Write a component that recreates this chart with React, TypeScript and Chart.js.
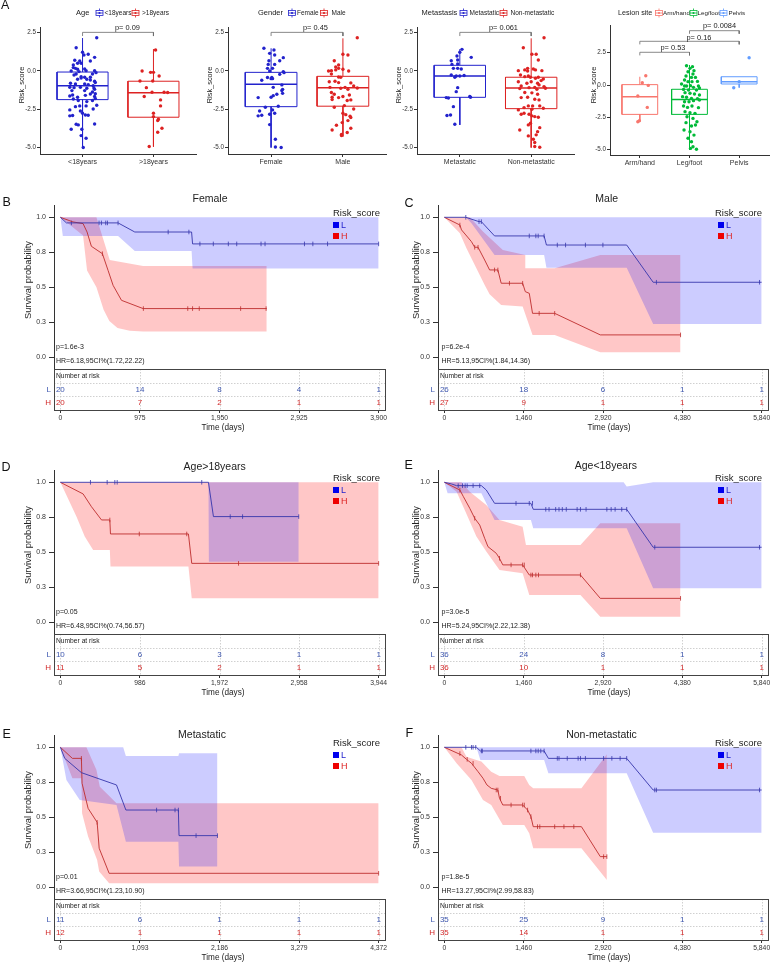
import React, { useEffect, useRef } from "react";
import { Chart, registerables } from "chart.js";

Chart.register(...registerables);

type Pt = [number, number];
const FONT = "'Liberation Sans', Arial, 'DejaVu Sans', sans-serif";
Chart.defaults.font.family = FONT;

/* ======================= Panel A : box plots ======================= */
// stats rows: [q1, median, q3, lower whisker, upper whisker]
const ageNames = ["<18years", ">18years"];
const ageStats = [
  [-1.87, -0.96, -0.07, -5.0, 2.15],
  [-3.02, -1.43, -0.67, -4.94, 1.43],
];
const ageYoungDots: Pt[] = [
  [0.2, 2.17], [-0.09, 1.52], [0, 1.22], [0.02, 1.04], [0.08, 1.09], [-0.11, 0.7], [-0.04, 0.65], [0.11, 0.65], [0.17, 0.89],
  [-0.13, 0.39], [-0.07, 0.5], [-0.02, 0.5], [-0.13, 0.22], [-0.1, 0.17], [-0.07, 0.11], [0.03, 0.13], [-0.16, 0], [-0.05, -0.04],
  [0.05, 0.02], [0.17, 0.02], [0.19, -0.11], [-0.09, -0.2], [-0.12, -0.26], [-0.02, -0.37], [0.03, -0.41], [0.11, -0.41], [0.14, -0.2],
  [-0.07, -0.54], [-0.02, -0.46], [0.06, -0.54], [0.11, -0.59], [0.17, -0.67], [0.18, -0.76], [-0.17, -0.8], [-0.1, -0.85], [0.03, -0.85],
  [0.08, -0.89], [0.15, -0.96], [-0.18, -1.07], [-0.12, -1.09], [-0.03, -1.07], [0.06, -1.13], [0.16, -1.11], [0.17, -1.2], [-0.15, -1.28],
  [0.03, -1.28], [0.14, -1.37], [0.18, -1.48], [-0.18, -1.63], [-0.14, -1.57], [-0.07, -1.72], [0.04, -1.59], [0.17, -1.67], [0.11, -1.5],
  [-0.13, -1.83], [-0.06, -1.93], [0.06, -2.0], [0.18, -1.8], [0.14, -1.93], [-0.1, -2.33], [-0.04, -2.28], [0.05, -2.28], [0.2, -2.24],
  [-0.18, -2.54], [-0.03, -2.61], [0.15, -2.48], [-0.18, -2.93], [-0.14, -2.91], [0, -2.76], [0.04, -2.87], [0.08, -2.89], [-0.06, -3.52],
  [-0.09, -3.48], [0.17, -3.46], [-0.16, -3.8], [-0.01, -3.8], [-0.02, -4.22], [0.05, -4.39], [0.01, -5.0],
];
const ageOldDots: Pt[] = [
  [0.03, 1.37], [-0.16, 0], [-0.04, -0.09], [0, -0.09], [0.08, -0.33], [-0.19, -0.65], [-0.01, -0.65], [-0.1, -1.09], [-0.02, -1.39],
  [0.15, -1.39], [0.2, -1.41], [-0.13, -1.67], [0.1, -1.89], [0.1, -2.28], [0, -2.76], [0, -2.98], [0.07, -3.15], [0.06, -3.24],
  [0.12, -3.74], [0.06, -4.0], [-0.06, -4.93],
];

const genderNames = ["Female", "Male"];
const genderStats = [
  [-2.33, -0.87, -0.09, -5.0, 1.48],
  [-2.3, -1.09, -0.35, -4.28, 2.13],
];
const femaleDots: Pt[] = [
  [-0.1, 1.48], [0.04, 1.37], [-0.02, 1.15], [0.05, 1.04], [-0.03, 0.67], [0.12, 0.67], [0.17, 0.87], [-0.04, 0.43], [0.05, 0.43],
  [-0.05, 0.17], [0.02, 0.17], [-0.02, 0], [0.17, -0.04], [0.18, -0.11], [0.12, -0.22], [-0.05, -0.43], [0.01, -0.43], [-0.13, -0.61],
  [0, -0.5], [0.02, -0.5], [0.15, -0.91], [0.03, -1.07], [0.16, -1.2], [0.15, -1.28], [0.16, -1.46], [-0.18, -1.74], [0, -1.72],
  [0.03, -1.61], [0.08, -1.52], [0.1, -2.3], [-0.08, -2.37], [-0.16, -2.61], [0.02, -2.54], [-0.18, -2.93], [-0.13, -2.89], [-0.02, -2.83],
  [0.05, -2.76], [-0.02, -3.5], [0.06, -4.46], [0.06, -4.96], [0.14, -5.0],
];
const maleDots: Pt[] = [
  [0.2, 2.17], [0, 1.09], [0.07, 1.04], [-0.12, 0.67], [-0.06, 0.39], [-0.1, 0.26], [-0.16, 0.02], [-0.1, 0.07], [-0.06, 0.17], [0, 0.11],
  [0.08, 0], [-0.2, 0], [-0.16, -0.2], [-0.06, -0.39], [-0.03, -0.41], [-0.19, -0.7], [-0.11, -0.67], [-0.06, -0.76], [0.11, -0.78],
  [0.15, -0.98], [-0.18, -1.07], [0.03, -1.07], [-0.03, -1.13], [0.07, -1.2], [0.2, -1.11], [-0.16, -1.41], [-0.12, -1.52], [-0.15, -1.72],
  [-0.06, -1.74], [0, -1.67], [0.09, -1.57], [-0.15, -1.87], [0.06, -1.93], [0.11, -1.89], [0.02, -2.26], [0.15, -2.48], [-0.12, -2.37],
  [0, -2.76], [0.04, -2.85], [0.1, -2.96], [0.11, -3.04], [0.07, -3.24], [-0.01, -3.37], [-0.09, -3.54], [-0.15, -3.85], [0.11, -3.74],
  [0.06, -4.02], [-0.02, -4.22], [-0.02, -4.15],
];

const metNames = ["Metastatic", "Non-metastatic"];
const metStats = [
  [-1.72, -0.33, 0.37, -3.52, 1.43],
  [-2.46, -1.11, -0.41, -5.0, 2.13],
];
const metDots: Pt[] = [
  [0.03, 1.41], [0, 1.22], [-0.04, 0.98], [-0.03, 0.72], [-0.12, 0.67], [-0.03, 0.46], [-0.11, 0.43], [-0.09, 0.17], [0.16, 0.89],
  [-0.03, 0.17], [0.02, 0.13], [-0.12, -0.26], [-0.07, -0.41], [-0.05, -0.33], [0.06, -0.3], [0, -0.33], [-0.03, -1.09], [-0.05, -1.35],
  [-0.19, -1.74], [-0.16, -1.76], [0.14, -1.67], [0.15, -1.72], [-0.09, -2.33], [-0.13, -2.87], [-0.18, -2.91], [-0.07, -3.48],
];
const nonMetDots: Pt[] = [
  [0.18, 2.17], [-0.11, 1.52], [0.01, 1.09], [0.07, 1.09], [0.1, 0.72], [-0.18, 0.02], [-0.09, 0.07], [-0.05, 0.17], [-0.05, 0], [0.03, 0.13],
  [0.06, 0.07], [0.15, 0.02], [-0.15, -0.26], [-0.09, -0.37], [-0.04, -0.33], [-0.01, -0.41], [0.06, -0.48], [0.1, -0.41], [0.17, -0.52],
  [0.14, -0.63], [-0.18, -0.7], [-0.06, -0.8], [0, -0.7], [0.09, -0.8], [0.11, -0.91], [0.18, -1.02], [-0.14, -0.98], [0.05, -1.07],
  [-0.16, -1.15], [-0.03, -1.09], [0.08, -1.2], [0.2, -1.13], [-0.09, -1.41], [0.01, -1.43], [0.09, -1.52], [-0.14, -1.74], [-0.05, -1.72],
  [0.05, -1.85], [0.11, -1.89], [0.02, -2.28], [0.12, -2.28], [-0.1, -2.39], [-0.04, -2.28], [-0.18, -2.54], [0.01, -2.5], [0.17, -2.43],
  [-0.14, -2.83], [-0.1, -2.76], [-0.03, -2.83], [0.01, -2.93], [0.05, -2.98], [0.1, -3.02], [-0.01, -3.41], [-0.04, -3.52], [0.12, -3.7],
  [-0.16, -3.85], [0.09, -3.96], [0.07, -4.17], [-0.04, -4.24], [0.03, -4.46], [0.05, -4.67], [0.05, -4.93], [0.12, -4.98],
];

const siteNames = ["Arm/hand", "Leg/foot", "Pelvis"];
const siteStats = [
  [-2.27, -0.9, 0.03, -2.84, 0.64],
  [-2.27, -1.11, -0.33, -5.0, 1.55],
  [0.08, 0.26, 0.64, -0.2, 0.64],
];
const armDots: Pt[] = [[0.12, 0.72], [0.05, 0.18], [0.17, -0.03], [-0.04, -0.85], [0.15, -1.73], [-0.01, -2.76], [-0.04, -2.84]];
const legDots: Pt[] = [
  [-0.06, 1.49], [0.06, 1.42], [0.01, 1.29], [0.09, 1.11], [-0.03, 1.03], [0.07, 0.85], [-0.07, 0.7], [0.04, 0.59], [0.12, 0.59],
  [-0.1, 0.39], [-0.03, 0.26], [0.05, 0.26], [0.16, 0.28], [-0.16, 0.08], [-0.06, -0.08], [0.02, -0.05], [0.08, -0.18], [0.18, -0.08],
  [-0.12, -0.34], [-0.02, -0.39], [0.14, -0.39], [0.2, -0.23], [-0.09, -0.59], [0.01, -0.64], [0.1, -0.7], [0.2, -0.77], [-0.14, -0.9],
  [-0.06, -0.95], [0.04, -1.03], [0.16, -1.06], [-0.1, -1.29], [-0.01, -1.29], [0.08, -1.21], [0.2, -1.16], [-0.12, -1.62], [-0.04, -1.73],
  [0.05, -1.62], [0.18, -1.75], [-0.09, -2.06], [0.01, -2.14], [0.11, -2.19], [-0.05, -2.45], [0.07, -2.58], [0.15, -2.84], [-0.07, -2.91],
  [0.04, -3.17], [0.12, -3.09], [-0.11, -3.48], [0.01, -3.61], [0.09, -3.87], [-0.03, -4.12], [0.04, -4.38], [0.07, -4.77], [0.14, -4.97],
  [0.02, -4.9], [-0.1, -0.08],
];
const pelvisDots: Pt[] = [[-0.11, -0.21], [0, 0.26], [0.2, 2.11]];

const boxYTicks = [-5, -2.5, 0, 2.5];
// brackets: [from group, to group, height]
const twoBracket = [[1, 2, 2.52]];
const siteBrackets = [[1, 2, 2.53], [1, 3, 3.38], [2, 3, 4.2]];

/* ======================= KM panels ======================= */
const femaleTimes = [0, 975, 1950, 2925, 3900];
const femaleRiskL = [20, 14, 8, 4, 1];
const femaleRiskH = [20, 7, 2, 1, 1];
const femaleLCurve: Pt[] = [[0, 1], [74, 0.96], [707, 0.96], [912, 0.895], [1608, 0.895], [1620, 0.81], [3900, 0.81]];
const femaleLCensor: Pt[] = [[135, 0.96], [474, 0.96], [503, 0.96], [556, 0.96], [577, 0.96], [707, 0.96], [1321, 0.895], [1575, 0.895], [1710, 0.81], [1874, 0.81], [2058, 0.81], [2161, 0.81], [2459, 0.81], [2508, 0.81], [2991, 0.81], [3094, 0.81], [3274, 0.81], [3900, 0.81]];
const femaleLUpper: Pt[] = [[0, 1], [3900, 1]];
const femaleLLower: Pt[] = [[0, 1], [30, 0.866], [707, 0.866], [912, 0.76], [1608, 0.76], [1620, 0.635], [3900, 0.635]];
const femaleHCurve: Pt[] = [[0, 1], [155, 0.967], [278, 0.955], [327, 0.895], [380, 0.793], [515, 0.74], [585, 0.62], [646, 0.514], [749, 0.407], [1014, 0.348], [2529, 0.348]];
const femaleHCensor: Pt[] = [[515, 0.74], [1017, 0.348], [1561, 0.348], [1620, 0.348], [1702, 0.348], [2209, 0.348], [2521, 0.348]];
const femaleHUpper: Pt[] = [[0, 1], [442, 1], [605, 0.695], [1014, 0.652], [2529, 0.652]];
const femaleHLower: Pt[] = [[0, 1], [278, 0.87], [327, 0.62], [442, 0.5], [530, 0.34], [600, 0.26], [700, 0.21], [850, 0.19], [1014, 0.185], [2529, 0.185]];

const maleTimes = [0, 1460, 2920, 4380, 5840];
const maleRiskL = [26, 18, 6, 1, 1];
const maleRiskH = [27, 9, 1, 1, 1];
const maleLCurve: Pt[] = [[0, 1], [395, 1], [638, 0.969], [681, 0.969], [924, 0.867], [1836, 0.867], [1879, 0.802], [3356, 0.802], [3843, 0.536], [5840, 0.536]];
const maleLCensor: Pt[] = [[395, 1], [638, 0.969], [681, 0.969], [1563, 0.867], [1684, 0.867], [1727, 0.867], [1836, 0.867], [2079, 0.802], [2231, 0.802], [2596, 0.802], [2918, 0.802], [3903, 0.536], [5800, 0.536]];
const maleLUpper: Pt[] = [[0, 1], [5840, 1]];
const maleLLower: Pt[] = [[0, 1], [395, 1], [499, 0.957], [924, 0.731], [1836, 0.731], [1879, 0.64], [3356, 0.64], [3843, 0.238], [5840, 0.238]];
const maleHCurve: Pt[] = [[0, 1], [286, 0.945], [316, 0.91], [395, 0.874], [499, 0.826], [559, 0.786], [620, 0.786], [742, 0.695], [833, 0.624], [985, 0.624], [1046, 0.529], [1441, 0.529], [1490, 0.469], [1563, 0.457], [1623, 0.314], [2031, 0.314], [2870, 0.16], [4347, 0.16]];
const maleHCensor: Pt[] = [[286, 0.945], [559, 0.786], [620, 0.786], [924, 0.624], [985, 0.624], [1198, 0.529], [1441, 0.529], [1745, 0.314], [2031, 0.314], [4347, 0.16]];
const maleHUpper: Pt[] = [[0, 1], [468, 1], [711, 0.898], [1076, 0.767], [1490, 0.731], [1502, 0.636], [2031, 0.636], [2870, 0.731], [4347, 0.731]];
const maleHLower: Pt[] = [[0, 1], [286, 0.886], [407, 0.779], [742, 0.517], [833, 0.45], [1046, 0.374], [1441, 0.362], [1623, 0.16], [2031, 0.16], [2870, 0.036], [4347, 0.036]];

const oldTimes = [0, 986, 1972, 2958, 3944];
const oldRiskL = [10, 6, 3, 1, 1];
const oldRiskH = [11, 5, 2, 1, 1];
const oldLCurve: Pt[] = [[0, 1], [1835, 1], [1897, 0.755], [2954, 0.755]];
const oldLCensor: Pt[] = [[373, 1], [580, 1], [675, 1], [704, 1], [1752, 1], [2105, 0.755], [2258, 0.755], [2954, 0.755]];
const oldLUpper: Pt[] = [[0, 1], [2954, 1]];
const oldLLower: Pt[] = [[0, 1], [1835, 1], [1840, 0.433], [2954, 0.433]];
const oldHCurve: Pt[] = [[0, 1], [282, 0.917], [385, 0.826], [510, 0.731], [613, 0.731], [621, 0.631], [1587, 0.631], [1628, 0.421], [3944, 0.421]];
const oldHCensor: Pt[] = [[613, 0.731], [978, 0.631], [1566, 0.631], [2208, 0.421], [3944, 0.421]];
const oldHUpper: Pt[] = [[0, 1], [3944, 1]];
const oldHLower: Pt[] = [[0, 1], [199, 0.755], [302, 0.612], [406, 0.517], [613, 0.517], [621, 0.398], [1587, 0.398], [1628, 0.171], [3944, 0.171]];

const youngTimes = [0, 1460, 2920, 4380, 5840];
const youngRiskL = [36, 24, 8, 1, 1];
const youngRiskH = [36, 10, 1, 1, 1];
const youngLCurve: Pt[] = [[0, 1], [134, 0.988], [225, 0.976], [681, 0.976], [772, 0.945], [924, 0.85], [1593, 0.85], [1636, 0.807], [3356, 0.807], [3843, 0.536], [5840, 0.536]];
const youngLCensor: Pt[] = [[255, 0.976], [334, 0.976], [383, 0.976], [420, 0.976], [529, 0.976], [651, 0.976], [1319, 0.85], [1563, 0.85], [1623, 0.85], [1867, 0.807], [1927, 0.807], [2049, 0.807], [2110, 0.807], [2171, 0.807], [2244, 0.807], [2444, 0.807], [2505, 0.807], [2608, 0.807], [2991, 0.807], [3070, 0.807], [3143, 0.807], [3265, 0.807], [3356, 0.807], [3873, 0.536], [5800, 0.536]];
const youngLUpper: Pt[] = [[0, 1], [3300, 1], [3356, 0.97], [3843, 1], [5840, 1]];
const youngLLower: Pt[] = [[0, 1], [60, 0.921], [681, 0.921], [924, 0.731], [1593, 0.731], [1636, 0.671], [3356, 0.671], [3843, 0.243], [5840, 0.243]];
const youngHCurve: Pt[] = [[0, 1], [286, 0.945], [347, 0.9], [468, 0.814], [559, 0.743], [651, 0.695], [742, 0.6], [803, 0.54], [955, 0.493], [1015, 0.457], [1076, 0.41], [1441, 0.41], [1563, 0.338], [2505, 0.338], [2870, 0.171], [4347, 0.171]];
const youngHCensor: Pt[] = [[286, 0.945], [559, 0.743], [1015, 0.457], [1228, 0.41], [1441, 0.41], [1471, 0.41], [1593, 0.338], [1623, 0.338], [1684, 0.338], [1733, 0.338], [2505, 0.338], [4347, 0.171]];
const youngHUpper: Pt[] = [[0, 1], [316, 1], [468, 0.933], [772, 0.838], [1015, 0.731], [1441, 0.683], [1502, 0.552], [2505, 0.552], [2870, 0.707], [4347, 0.707]];
const youngHLower: Pt[] = [[0, 1], [225, 0.933], [377, 0.8], [590, 0.612], [772, 0.505], [1015, 0.374], [1441, 0.35], [1563, 0.195], [2505, 0.195], [2870, 0.04], [4347, 0.04]];

const metTimes = [0, 1093, 2186, 3279, 4372];
const metRiskL = [11, 6, 1, 1, 1];
const metRiskH = [12, 1, 1, 1, 1];
const metLCurve: Pt[] = [[0, 1], [60, 0.921], [289, 0.819], [771, 0.731], [900, 0.552], [1621, 0.552], [1630, 0.369], [2158, 0.369]];
const metLCensor: Pt[] = [[1322, 0.552], [1575, 0.552], [1621, 0.552], [1864, 0.369], [2158, 0.369]];
const metLUpper: Pt[] = [[0, 1], [863, 1], [900, 0.938], [1621, 0.938], [1630, 0.957], [2158, 0.957]];
const metLLower: Pt[] = [[0, 1], [83, 0.767], [266, 0.624], [771, 0.588], [900, 0.326], [1621, 0.326], [1630, 0.148], [2158, 0.148]];
const metHCurve: Pt[] = [[0, 1], [165, 0.921], [289, 0.921], [298, 0.743], [381, 0.564], [505, 0.464], [519, 0.374], [533, 0.279], [670, 0.1], [4372, 0.1]];
const metHCensor: Pt[] = [[289, 0.921], [505, 0.464], [4372, 0.1]];
const metHUpper: Pt[] = [[0, 1], [358, 1], [496, 0.838], [542, 0.719], [679, 0.648], [771, 0.6], [4372, 0.6]];
const metHLower: Pt[] = [[0, 1], [165, 0.779], [289, 0.779], [298, 0.529], [381, 0.362], [505, 0.195], [533, 0.112], [670, 0.029], [4372, 0.029]];

const nonTimes = [0, 1460, 2920, 4380, 5840];
const nonRiskL = [35, 25, 9, 1, 1];
const nonRiskH = [35, 14, 1, 1, 1];
const nonLCurve: Pt[] = [[0, 1], [590, 1], [663, 0.974], [1836, 0.974], [1915, 0.921], [3356, 0.921], [3843, 0.695], [5840, 0.695]];
const nonLCensor: Pt[] = [[395, 1], [499, 1], [529, 1], [578, 1], [681, 0.974], [699, 0.974], [1593, 0.974], [1684, 0.974], [1727, 0.974], [1775, 0.974], [1836, 0.974], [2079, 0.921], [2110, 0.921], [2262, 0.921], [2462, 0.921], [2505, 0.921], [2596, 0.921], [2931, 0.921], [3083, 0.921], [3235, 0.921], [3356, 0.921], [3873, 0.695], [3903, 0.695], [5800, 0.695]];
const nonLUpper: Pt[] = [[0, 1], [5840, 1]];
const nonLLower: Pt[] = [[0, 1], [590, 1], [663, 0.91], [1836, 0.91], [1915, 0.814], [3356, 0.814], [3843, 0.39], [5840, 0.39]];
const nonHCurve: Pt[] = [[0, 1], [316, 0.945], [407, 0.914], [499, 0.886], [620, 0.826], [711, 0.779], [784, 0.731], [863, 0.707], [985, 0.695], [1015, 0.636], [1076, 0.588], [1441, 0.588], [1532, 0.552], [1593, 0.505], [1636, 0.433], [2523, 0.433], [2870, 0.219], [2991, 0.219]];
const nonHCensor: Pt[] = [[286, 0.955], [420, 0.914], [529, 0.886], [955, 0.695], [985, 0.695], [1034, 0.636], [1228, 0.588], [1441, 0.588], [1471, 0.588], [1532, 0.552], [1593, 0.505], [1715, 0.433], [1757, 0.433], [2031, 0.433], [2201, 0.433], [2383, 0.433], [2931, 0.219], [2991, 0.219]];
const nonHUpper: Pt[] = [[0, 1], [316, 1], [407, 0.933], [590, 0.91], [681, 0.898], [863, 0.826], [1015, 0.795], [1471, 0.795], [1562, 0.731], [1636, 0.707], [2523, 0.707], [2991, 0.95]];
const nonHLower: Pt[] = [[0, 1], [225, 0.886], [499, 0.767], [711, 0.624], [863, 0.588], [1076, 0.445], [1471, 0.445], [1562, 0.386], [1636, 0.279], [2523, 0.279], [2991, 0.052]];

const survTicks = [0, 0.25, 0.5, 0.75, 1];

/* ======================= colours ======================= */
const LLINE = "#3636ac";
const HLINE = "#bd2c2c";
const LFILL = "rgba(0,0,255,0.2)";
const HFILL = "rgba(255,0,0,0.22)";
const LTXT = "#3f58b0";
const HTXT = "#d22a2a";
const BLUE = "#2222cc";
const RED = "#dd2222";
const TXT = "#222";

/* ======================= helpers ======================= */
function overlayPlugin(items: any[], ox: number, oy: number) {
  return {
    id: "overlay",
    afterDraw(chart: any) {
      const ctx = chart.ctx as CanvasRenderingContext2D;
      for (const it of items) {
        ctx.save();
        if (it.k === "t") {
          ctx.font = `${it.size}px ${FONT}`;
          ctx.fillStyle = it.color || TXT;
          ctx.textAlign = it.align || "left";
          ctx.textBaseline = "middle";
          ctx.translate(it.x - ox, it.y - oy);
          if (it.rot) ctx.rotate((it.rot * Math.PI) / 180);
          ctx.fillText(it.t, 0, 0);
        } else if (it.k === "r") {
          ctx.fillStyle = it.fill;
          ctx.fillRect(it.x - ox, it.y - oy, it.w, it.h);
        } else if (it.k === "g") {
          // boxplot legend key
          const x = it.x - ox, y = it.y - oy;
          ctx.strokeStyle = it.color;
          ctx.fillStyle = it.color;
          ctx.lineWidth = 0.8;
          ctx.beginPath();
          ctx.moveTo(x + 3.5, y - 4.5);
          ctx.lineTo(x + 3.5, y + 4.5);
          ctx.stroke();
          ctx.fillStyle = "#fff";
          ctx.fillRect(x, y - 2.5, 7, 5);
          ctx.strokeRect(x, y - 2.5, 7, 5);
          ctx.beginPath();
          ctx.moveTo(x, y);
          ctx.lineTo(x + 7, y);
          ctx.stroke();
          ctx.fillStyle = it.color;
          ctx.beginPath();
          ctx.arc(x + 3.5, y, 1.1, 0, Math.PI * 2);
          ctx.fill();
        }
        ctx.restore();
      }
    },
  };
}

function baseOptions(padding: any) {
  return {
    responsive: false,
    maintainAspectRatio: false,
    animation: false,
    devicePixelRatio: 1,
    events: [],
    layout: { padding },
    plugins: {
      legend: { display: false },
      tooltip: { enabled: false },
      title: { display: false },
      filler: { drawTime: "beforeDatasetsDraw" },
    },
  };
}

function ChartCanvas({ x, y, w, h, make }: { x: number; y: number; w: number; h: number; make: () => any }) {
  const ref = useRef<HTMLCanvasElement | null>(null);
  useEffect(() => {
    const c = new Chart(ref.current as HTMLCanvasElement, make());
    return () => c.destroy();
  }, []);
  return (
    <canvas ref={ref} width={w} height={h} style={{ position: "absolute", left: x, top: y, width: w, height: h }} />
  );
}

/* ---------- box plot chart ---------- */
interface BoxSpec {
  ox: number; oy: number; w: number; h: number; axisW: number; padTop: number; xAxisH: number;
  yMin: number; yMax: number; names: string[]; stats: number[][]; dots: Pt[][];
  colors: string[]; brackets: number[][]; overlay: any[];
}

function boxConfig(s: BoxSpec) {
  const ds: any[] = [];
  const hw = 0.36;
  s.stats.forEach((st, i) => {
    const c = i + 1;
    const [q1, med, q3, lo, hi] = st;
    const b = { borderColor: s.colors[i], borderWidth: 1, pointRadius: 0, fill: false, tension: 0, order: 2 };
    ds.push({ ...b, data: [{ x: c - hw, y: q1 }, { x: c + hw, y: q1 }, { x: c + hw, y: q3 }, { x: c - hw, y: q3 }, { x: c - hw, y: q1 }] });
    ds.push({ ...b, borderWidth: 1.5, data: [{ x: c - hw, y: med }, { x: c + hw, y: med }] });
    ds.push({ ...b, data: [{ x: c, y: q3 }, { x: c, y: hi }] });
    ds.push({ ...b, data: [{ x: c, y: q1 }, { x: c, y: lo }] });
    ds.push({
      data: s.dots[i].map(([dx, v]) => ({ x: c + dx, y: v })),
      showLine: false, pointRadius: 1.7, pointBackgroundColor: s.colors[i], pointBorderWidth: 0,
      borderColor: s.colors[i], order: 0,
    });
  });
  s.brackets.forEach((br) => {
    ds.push({
      data: [{ x: br[0], y: br[2] - 0.24 }, { x: br[0], y: br[2] }, { x: br[1], y: br[2] }, { x: br[1], y: br[2] - 0.24 }],
      borderColor: "#6b6b6b", borderWidth: 0.8, pointRadius: 0, fill: false, order: 3,
    });
  });
  const n = s.names.length;
  return {
    type: "line",
    data: { datasets: ds },
    options: {
      ...baseOptions({ top: s.padTop, right: 0, bottom: 0, left: 0 }),
      scales: {
        x: {
          type: "linear", min: 0.4, max: n + 0.6,
          afterBuildTicks: (sc: any) => { sc.ticks = s.names.map((_, i) => ({ value: i + 1 })); },
          afterFit: (sc: any) => { sc.height = s.xAxisH; },
          ticks: { callback: (_v: any, i: number) => s.names[i], font: { size: 7 }, color: "#333", padding: 1, maxRotation: 0, autoSkip: false },
          grid: { drawOnChartArea: false, drawTicks: true, tickLength: 3, tickColor: "#333" },
          border: { display: true, color: "#333", width: 1 },
        },
        y: {
          type: "linear", min: s.yMin, max: s.yMax,
          afterBuildTicks: (sc: any) => { sc.ticks = boxYTicks.map((v) => ({ value: v })); },
          afterFit: (sc: any) => { sc.width = s.axisW; },
          ticks: { callback: (v: any) => Number(v).toFixed(1), font: { size: 6.3 }, color: "#333", padding: 1, autoSkip: false },
          grid: { drawOnChartArea: false, drawTicks: true, tickLength: 3, tickColor: "#333" },
          border: { display: true, color: "#333", width: 1 },
        },
      },
    },
    plugins: [overlayPlugin(s.overlay, s.ox, s.oy)],
  };
}

/* ---------- KM chart ---------- */
interface KMGroup { curve: Pt[]; censor: Pt[]; upper: Pt[]; lower: Pt[] }
interface KMPanel {
  col: number; row: number; letter: string; letterPos: Pt; title: string; titlePos: Pt;
  max: number; times: number[]; riskL: number[]; riskH: number[]; L: KMGroup; H: KMGroup;
  p: string; hr: string;
}

const pts = (a: Pt[]) => a.map(([x, y]) => ({ x, y }));

function kmDatasets(L: KMGroup, H: KMGroup) {
  const line = (a: Pt[], c: string) => ({ data: pts(a), borderColor: c, borderWidth: 0.9, pointRadius: 0, fill: false, tension: 0 });
  const cens = (a: Pt[], c: string) => ({
    data: pts(a), showLine: false, pointStyle: "line", pointRotation: 90, pointRadius: 2.3,
    pointBorderWidth: 0.8, pointBorderColor: c, pointBackgroundColor: c, borderColor: c,
  });
  const up = (a: Pt[]) => ({ data: pts(a), borderColor: "rgba(0,0,0,0)", borderWidth: 0, pointRadius: 0, fill: false, tension: 0 });
  const lo = (a: Pt[], f: string) => ({ data: pts(a), borderColor: "rgba(0,0,0,0)", borderWidth: 0, pointRadius: 0, fill: "-1", backgroundColor: f, tension: 0 });
  return [
    line(L.curve, LLINE), line(H.curve, HLINE), cens(L.censor, LLINE), cens(H.censor, HLINE),
    up(L.upper), lo(L.lower, LFILL), up(H.upper), lo(H.lower, HFILL),
  ];
}

function colGeom(col: number) {
  return col === 0
    ? { ox: 0, w: 390, axisW: 54, ylab: 28, legX: 333, sqX: 333, pX: 56, timeX: 223 }
    : { ox: 390, w: 383, axisW: 48, ylab: 416, legX: 715, sqX: 718, pX: 441.5, timeX: 609 };
}

function survConfig(p: KMPanel) {
  const g = colGeom(p.col);
  const dy = 265 * p.row;
  const oy = 190 + dy;
  const items = [
    { k: "t", t: p.letter, x: p.letterPos[0], y: p.letterPos[1], size: 12.5, color: "#111" },
    { k: "t", t: p.title, x: p.titlePos[0], y: p.titlePos[1], size: 10.5, align: "center" },
    { k: "t", t: "Survival probability", x: g.ylab, y: 280 + dy, size: 9.3, align: "center", rot: -90 },
    { k: "t", t: "Risk_score", x: g.legX, y: 213.5 + dy, size: 9.5 },
    { k: "r", x: g.sqX, y: 222 + dy, w: 6, h: 6, fill: "#0000ee" },
    { k: "r", x: g.sqX, y: 233 + dy, w: 6, h: 6, fill: "#ee0000" },
    { k: "t", t: "L", x: g.sqX + 8, y: 225.3 + dy, size: 9, color: BLUE },
    { k: "t", t: "H", x: g.sqX + 8, y: 236.3 + dy, size: 9, color: RED },
    { k: "t", t: p.p, x: g.pX, y: 346.7 + dy, size: 7 },
    { k: "t", t: p.hr, x: g.pX, y: 360.7 + dy, size: 7 },
  ];
  return {
    type: "line",
    data: { datasets: kmDatasets(p.L, p.H) },
    options: {
      ...baseOptions({ top: 15, right: 5, bottom: 10, left: 0 }),
      scales: {
        x: { type: "linear", display: false, min: -0.02 * p.max, max: 1.02 * p.max },
        y: {
          type: "linear", min: -0.0836, max: 1.0879,
          afterBuildTicks: (sc: any) => { sc.ticks = survTicks.map((v) => ({ value: v })); },
          afterFit: (sc: any) => { sc.width = g.axisW; },
          ticks: { callback: (v: any) => Number(v).toFixed(1), font: { size: 7 }, color: "#333", padding: 3, autoSkip: false },
          grid: { drawOnChartArea: false, drawTicks: true, tickLength: 5, tickColor: "#333" },
          border: { display: true, color: "#333", width: 1 },
        },
      },
    },
    plugins: [overlayPlugin(items, g.ox, oy)],
  };
}

function tableConfig(p: KMPanel) {
  const g = colGeom(p.col);
  const dy = 265 * p.row;
  const oy = 359 + dy;
  const counts = [p.riskL, p.riskH];
  const colors = [LTXT, HTXT];
  const plugin = {
    id: "riskTable",
    afterDraw(chart: any) {
      const ctx = chart.ctx as CanvasRenderingContext2D;
      const a = chart.chartArea;
      const xs = chart.scales.x, ys = chart.scales.y;
      ctx.save();
      ctx.strokeStyle = "#c4c4c4";
      ctx.lineWidth = 0.8;
      ctx.setLineDash([1.5, 1.5]);
      p.times.forEach((t) => {
        const px = Math.round(xs.getPixelForValue(t)) + 0.5;
        ctx.beginPath(); ctx.moveTo(px, a.top); ctx.lineTo(px, a.bottom); ctx.stroke();
      });
      [1, 2].forEach((v) => {
        const py = Math.round(ys.getPixelForValue(v)) + 0.5;
        ctx.beginPath(); ctx.moveTo(a.left, py); ctx.lineTo(a.right, py); ctx.stroke();
      });
      ctx.setLineDash([]);
      ctx.strokeStyle = "#444";
      ctx.lineWidth = 1;
      ctx.strokeRect(Math.round(a.left) + 0.5, Math.round(a.top) + 0.5, Math.round(a.right - a.left), Math.round(a.bottom - a.top));
      ctx.textBaseline = "middle";
      ctx.font = `6.7px ${FONT}`;
      ctx.fillStyle = TXT;
      ctx.textAlign = "left";
      ctx.fillText("Number at risk", a.left + 2, ys.getPixelForValue(2.5));
      ctx.font = `8px ${FONT}`;
      ctx.textAlign = "center";
      counts.forEach((arr, i) => {
        const meta = chart.getDatasetMeta(i);
        ctx.fillStyle = colors[i];
        meta.data.forEach((el: any, j: number) => ctx.fillText(String(arr[j]), el.x, el.y));
      });
      ctx.font = `8.2px ${FONT}`;
      ctx.fillStyle = TXT;
      ctx.fillText("Time (days)", g.timeX - g.ox, 427.7 + dy - oy);
      ctx.restore();
    },
  };
  return {
    type: "line",
    data: {
      datasets: [
        { data: p.times.map((t) => ({ x: t, y: 1.5 })), showLine: false, pointRadius: 0 },
        { data: p.times.map((t) => ({ x: t, y: 0.5 })), showLine: false, pointRadius: 0 },
      ],
    },
    options: {
      ...baseOptions({ top: 10, right: 5, bottom: 0, left: 0 }),
      scales: {
        x: {
          type: "linear", min: -0.02 * p.max, max: 1.02 * p.max,
          afterBuildTicks: (sc: any) => { sc.ticks = p.times.map((v) => ({ value: v })); },
          afterFit: (sc: any) => { sc.height = 25; },
          ticks: { callback: (v: any) => Number(v).toLocaleString("en-US"), font: { size: 6.8 }, color: "#333", padding: 1, maxRotation: 0, autoSkip: false },
          grid: { display: true, drawOnChartArea: false, drawTicks: true, tickLength: 3, tickColor: "#333" },
          border: { display: false },
        },
        y: {
          type: "linear", min: 0, max: 3,
          afterBuildTicks: (sc: any) => { sc.ticks = [{ value: 0.5 }, { value: 1.5 }]; },
          afterFit: (sc: any) => { sc.width = g.axisW; },
          ticks: {
            callback: (v: any) => (Number(v) > 1 ? "L" : "H"),
            color: (c: any) => (c.tick && c.tick.value > 1 ? LTXT : HTXT),
            font: { size: 8 }, padding: 3, autoSkip: false,
          },
          grid: { display: false, drawTicks: false },
          border: { display: false },
        },
      },
    },
    plugins: [plugin],
  };
}

const kmPanels: KMPanel[] = [
  {
    col: 0, row: 0, letter: "B", letterPos: [2.5, 203], title: "Female", titlePos: [210, 199.5], max: 3900,
    times: femaleTimes, riskL: femaleRiskL, riskH: femaleRiskH,
    L: { curve: femaleLCurve, censor: femaleLCensor, upper: femaleLUpper, lower: femaleLLower },
    H: { curve: femaleHCurve, censor: femaleHCensor, upper: femaleHUpper, lower: femaleHLower },
    p: "p=1.6e-3", hr: "HR=6.18,95CI%(1.72,22.22)",
  },
  {
    col: 1, row: 0, letter: "C", letterPos: [404.5, 204], title: "Male", titlePos: [606.7, 199.5], max: 5840,
    times: maleTimes, riskL: maleRiskL, riskH: maleRiskH,
    L: { curve: maleLCurve, censor: maleLCensor, upper: maleLUpper, lower: maleLLower },
    H: { curve: maleHCurve, censor: maleHCensor, upper: maleHUpper, lower: maleHLower },
    p: "p=6.2e-4", hr: "HR=5.13,95CI%(1.84,14.36)",
  },
  {
    col: 0, row: 1, letter: "D", letterPos: [1.5, 467.5], title: "Age>18years", titlePos: [214.7, 467], max: 3944,
    times: oldTimes, riskL: oldRiskL, riskH: oldRiskH,
    L: { curve: oldLCurve, censor: oldLCensor, upper: oldLUpper, lower: oldLLower },
    H: { curve: oldHCurve, censor: oldHCensor, upper: oldHUpper, lower: oldHLower },
    p: "p=0.05", hr: "HR=6.48,95CI%(0.74,56.57)",
  },
  {
    col: 1, row: 1, letter: "E", letterPos: [404.5, 466], title: "Age<18years", titlePos: [605.8, 466.5], max: 5840,
    times: youngTimes, riskL: youngRiskL, riskH: youngRiskH,
    L: { curve: youngLCurve, censor: youngLCensor, upper: youngLUpper, lower: youngLLower },
    H: { curve: youngHCurve, censor: youngHCensor, upper: youngHUpper, lower: youngHLower },
    p: "p=3.0e-5", hr: "HR=5.24,95CI%(2.22,12.38)",
  },
  {
    col: 0, row: 2, letter: "E", letterPos: [2.5, 735], title: "Metastatic", titlePos: [202, 735], max: 4372,
    times: metTimes, riskL: metRiskL, riskH: metRiskH,
    L: { curve: metLCurve, censor: metLCensor, upper: metLUpper, lower: metLLower },
    H: { curve: metHCurve, censor: metHCensor, upper: metHUpper, lower: metHLower },
    p: "p=0.01", hr: "HR=3.66,95CI%(1.23,10.90)",
  },
  {
    col: 1, row: 2, letter: "F", letterPos: [405.5, 734], title: "Non-metastatic", titlePos: [601.5, 735], max: 5840,
    times: nonTimes, riskL: nonRiskL, riskH: nonRiskH,
    L: { curve: nonLCurve, censor: nonLCensor, upper: nonLUpper, lower: nonLLower },
    H: { curve: nonHCurve, censor: nonHCensor, upper: nonHUpper, lower: nonHLower },
    p: "p=1.8e-5", hr: "HR=13.27,95CI%(2.99,58.83)",
  },
];

/* ---------- box panel specs ---------- */
const boxSpecs: BoxSpec[] = [
  {
    ox: 0, oy: 0, w: 200, h: 170, axisW: 40, padTop: 27, xAxisH: 16, yMin: -5.42, yMax: 2.87,
    names: ageNames, stats: ageStats, dots: [ageYoungDots, ageOldDots], colors: [BLUE, RED], brackets: twoBracket,
    overlay: [
      { k: "t", t: "A", x: 1, y: 6, size: 12.5, color: "#111" },
      { k: "t", t: "Age", x: 76, y: 13, size: 7.5 },
      { k: "g", x: 96, y: 13, color: BLUE },
      { k: "t", t: "<18years", x: 104.5, y: 13, size: 6.5 },
      { k: "g", x: 132, y: 13, color: RED },
      { k: "t", t: ">18years", x: 142, y: 13, size: 6.5 },
      { k: "t", t: "Risk_score", x: 22, y: 85, size: 7.4, align: "center", rot: -90 },
      { k: "t", t: "p= 0.09", x: 115, y: 28, size: 7.4 },
    ],
  },
  {
    ox: 190, oy: 0, w: 200, h: 170, axisW: 38, padTop: 27, xAxisH: 16, yMin: -5.42, yMax: 2.87,
    names: genderNames, stats: genderStats, dots: [femaleDots, maleDots], colors: [BLUE, RED], brackets: twoBracket,
    overlay: [
      { k: "t", t: "Gender", x: 258, y: 13, size: 7.5 },
      { k: "g", x: 288.5, y: 13, color: BLUE },
      { k: "t", t: "Female", x: 297, y: 13, size: 6.5 },
      { k: "g", x: 320.5, y: 13, color: RED },
      { k: "t", t: "Male", x: 331.5, y: 13, size: 6.5 },
      { k: "t", t: "Risk_score", x: 210, y: 85, size: 7.4, align: "center", rot: -90 },
      { k: "t", t: "p= 0.45", x: 303, y: 27.5, size: 7.4 },
    ],
  },
  {
    ox: 380, oy: 0, w: 198, h: 170, axisW: 37, padTop: 27, xAxisH: 16, yMin: -5.42, yMax: 2.87,
    names: metNames, stats: metStats, dots: [metDots, nonMetDots], colors: [BLUE, RED], brackets: twoBracket,
    overlay: [
      { k: "t", t: "Metastasis", x: 421.5, y: 13, size: 7.5 },
      { k: "g", x: 460, y: 13, color: BLUE },
      { k: "t", t: "Metastatic", x: 469.5, y: 13, size: 6.5 },
      { k: "g", x: 500, y: 13, color: RED },
      { k: "t", t: "Non-metastatic", x: 510.5, y: 13, size: 6.5 },
      { k: "t", t: "Risk_score", x: 399, y: 85, size: 7.4, align: "center", rot: -90 },
      { k: "t", t: "p= 0.061", x: 489, y: 27.5, size: 7.4 },
    ],
  },
  {
    ox: 570, oy: 0, w: 203, h: 171, axisW: 40, padTop: 25, xAxisH: 16, yMin: -5.41, yMax: 4.64,
    names: siteNames, stats: siteStats, dots: [armDots, legDots, pelvisDots], colors: ["#F8766D", "#00BA38", "#619CFF"],
    brackets: siteBrackets,
    overlay: [
      { k: "t", t: "Lesion site", x: 618, y: 13, size: 7.2 },
      { k: "g", x: 655.5, y: 13, color: "#F8766D" },
      { k: "t", t: "Arm/hand", x: 663, y: 13, size: 6.2 },
      { k: "g", x: 690, y: 13, color: "#00BA38" },
      { k: "t", t: "Leg/foot", x: 697.5, y: 13, size: 6.2 },
      { k: "g", x: 720, y: 13, color: "#619CFF" },
      { k: "t", t: "Pelvis", x: 728.5, y: 13, size: 6.2 },
      { k: "t", t: "Risk_score", x: 594, y: 85, size: 7.4, align: "center", rot: -90 },
      { k: "t", t: "p= 0.53", x: 660.5, y: 48.3, size: 7.4 },
      { k: "t", t: "p= 0.16", x: 686.5, y: 37.7, size: 7.4 },
      { k: "t", t: "p= 0.0084", x: 703, y: 26.3, size: 7.4 },
    ],
  },
];

export default function App() {
  return (
    <div style={{ position: "absolute", left: 0, top: 0, width: 773, height: 962, overflow: "hidden", background: "#fff" }}>
      {boxSpecs.map((s, i) => (
        <ChartCanvas key={"b" + i} x={s.ox} y={s.oy} w={s.w} h={s.h} make={() => boxConfig(s)} />
      ))}
      {kmPanels.map((p, i) => {
        const g = colGeom(p.col);
        const dy = 265 * p.row;
        return (
          <React.Fragment key={"k" + i}>
            <ChartCanvas x={g.ox} y={190 + dy} w={g.w} h={189} make={() => survConfig(p)} />
            <ChartCanvas x={g.ox} y={359 + dy} w={g.w} h={76} make={() => tableConfig(p)} />
          </React.Fragment>
        );
      })}
    </div>
  );
}
